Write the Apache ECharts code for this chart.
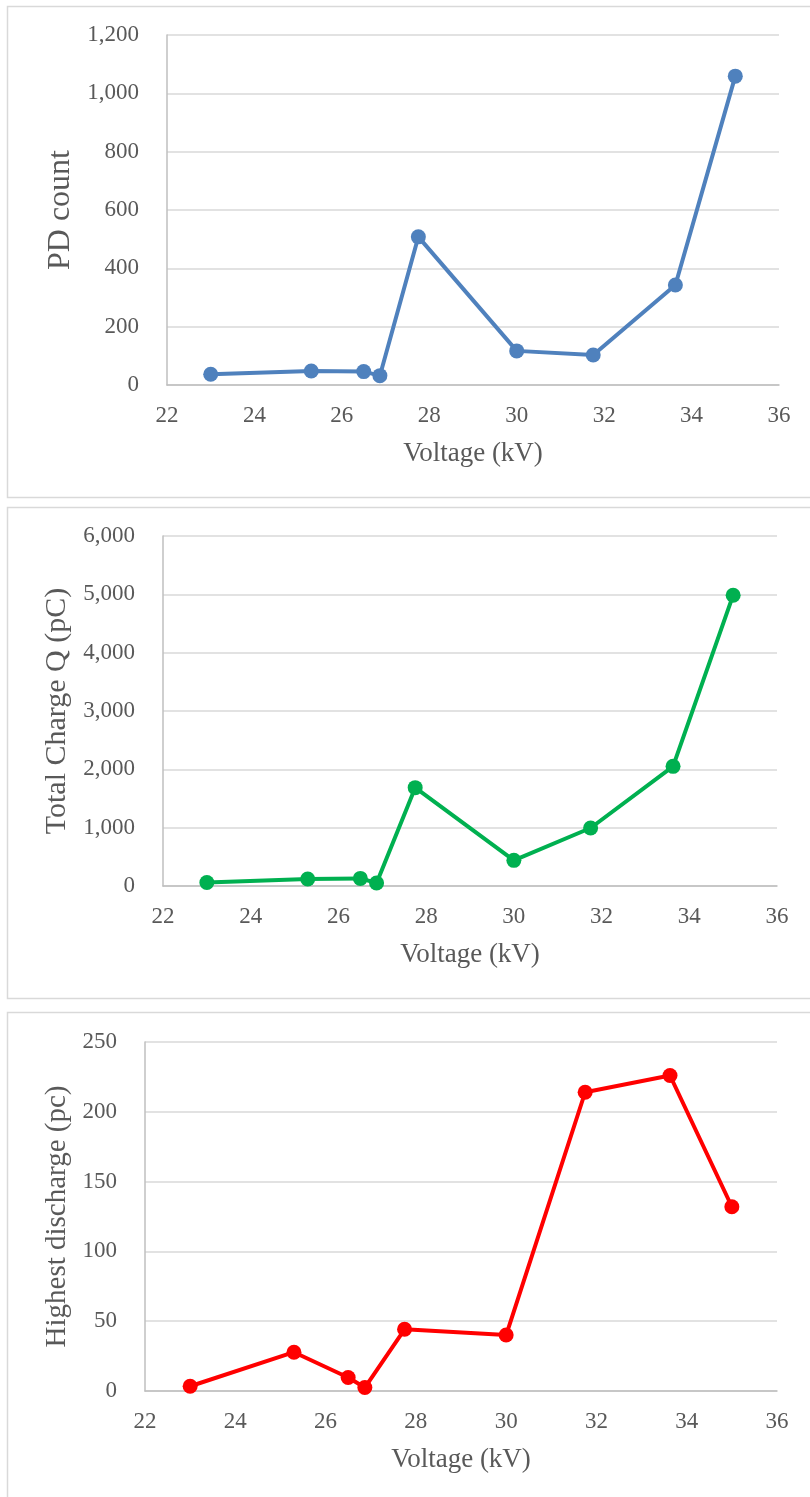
<!DOCTYPE html>
<html>
<head>
<meta charset="utf-8">
<title>PD measurements vs voltage</title>
<script src="https://cdn.jsdelivr.net/npm/echarts@6/dist/echarts.min.js"></script>
<style>
  html, body { margin: 0; padding: 0; background: #ffffff; }
  #chart { width: 810px; height: 1497px; }
</style>
</head>
<body>
<div id="chart"></div>
<script>
// Applied voltage steps (kV), shared by all three panels
const voltage = [23, 25.3, 26.5, 26.87, 27.75, 30, 31.75, 33.63, 35];

// Panel 1: number of partial discharges
const pdCount = [37, 48, 46, 32, 508, 117, 103, 343, 1059];
// Panel 2: total apparent charge (pC)
const totalCharge = [60, 120, 130, 52, 1686, 440, 994, 2051, 4985];
// Panel 3: largest single discharge (pC)
const highestDischarge = [3.4, 27.8, 9.7, 2.5, 44.2, 40.1, 214, 226, 132];

// Axis ranges
const xAxisRange = { min: 22, max: 36, interval: 2 };
const yRanges = [
  { min: 0, max: 1200, interval: 200 },
  { min: 0, max: 6000, interval: 1000 },
  { min: 0, max: 250, interval: 50 }
];
const yTitles = ['PD count', 'Total Charge Q (pC)', 'Highest discharge (pc)'];
const xTitle = 'Voltage (kV)';
const seriesColors = ['#4f81bd', '#00b050', '#ff0000'];
const seriesData = [pdCount, totalCharge, highestDischarge];

const FONT = "'Liberation Serif', 'Times New Roman', serif";
const TEXT = '#595959';

// Plot rectangles for the three stacked panels
const grids = [
  { left: 167, top: 35,   width: 612, height: 350, nameGap: 88, nameSize: 32 },
  { left: 163, top: 536,  width: 614, height: 350, nameGap: 88, nameSize: 30 },
  { left: 145, top: 1042, width: 632, height: 349, nameGap: 69, nameSize: 29 }
];
// Light frames around each panel (right edge runs off the page)
const frames = [
  { x: 7, y: 6,    h: 491 },
  { x: 7, y: 507,  h: 491 },
  { x: 7, y: 1012, h: 500 }
];

const fmt = v => Number(v).toLocaleString('en-US');

const option = {
  backgroundColor: '#ffffff',
  animation: false,
  graphic: frames.map(f => ({
    type: 'rect',
    silent: true,
    z: -1,
    shape: { x: f.x + 0.5, y: f.y + 0.5, width: 830, height: f.h },
    style: { fill: 'none', stroke: '#d9d9d9', lineWidth: 1.5 }
  })),
  grid: grids.map(g => ({
    left: g.left, top: g.top, width: g.width, height: g.height,
    containLabel: false, outerBoundsMode: 'none'
  })),
  xAxis: grids.map((g, i) => ({
    type: 'value',
    gridIndex: i,
    min: xAxisRange.min, max: xAxisRange.max, interval: xAxisRange.interval,
    name: xTitle,
    nameLocation: 'middle',
    nameGap: 55,
    nameTextStyle: { fontFamily: FONT, fontSize: 27, color: TEXT },
    axisLine: { show: true, onZero: false, lineStyle: { color: '#bfbfbf', width: 1.5 } },
    axisTick: { show: false },
    splitLine: { show: false },
    axisLabel: { fontFamily: FONT, fontSize: 23, color: TEXT, margin: 19 }
  })),
  yAxis: grids.map((g, i) => ({
    type: 'value',
    gridIndex: i,
    min: yRanges[i].min, max: yRanges[i].max, interval: yRanges[i].interval,
    name: yTitles[i],
    nameLocation: 'middle',
    nameGap: g.nameGap,
    nameRotate: 90,
    nameTextStyle: { fontFamily: FONT, fontSize: g.nameSize, color: TEXT },
    axisLine: { show: true, lineStyle: { color: '#bfbfbf', width: 1.5 } },
    axisTick: { show: false },
    splitLine: { show: true, lineStyle: { color: '#d9d9d9', width: 1.5 } },
    axisLabel: { fontFamily: FONT, fontSize: 23, color: TEXT, margin: 28, formatter: fmt }
  })),
  series: seriesData.map((vals, i) => ({
    type: 'line',
    xAxisIndex: i,
    yAxisIndex: i,
    data: voltage.map((v, k) => [v, vals[k]]),
    symbol: 'circle',
    symbolSize: 15,
    showAllSymbol: true,
    lineStyle: { color: seriesColors[i], width: 4 },
    itemStyle: { color: seriesColors[i] },
    z: 3
  }))
};

const chart = echarts.init(document.getElementById('chart'), null, { renderer: 'canvas' });
chart.setOption(option);
</script>
</body>
</html>
